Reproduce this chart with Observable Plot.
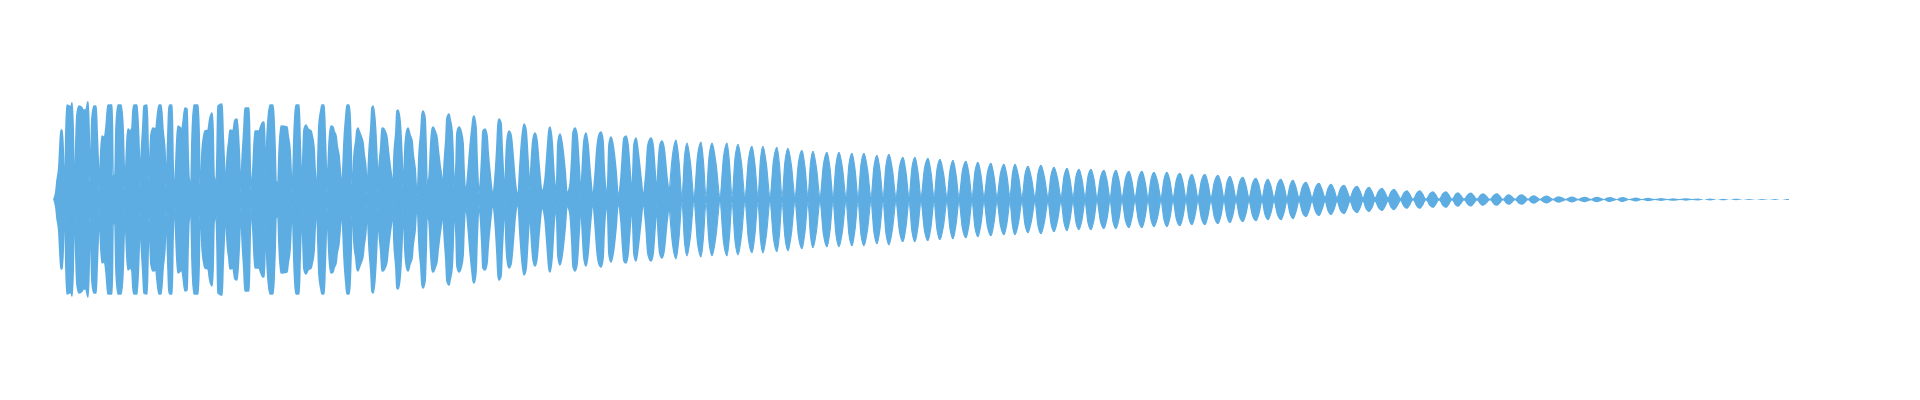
<!DOCTYPE html>
<html>
<head>
<meta charset="utf-8">
<script src="https://cdn.jsdelivr.net/npm/d3@7"></script>
<script src="https://cdn.jsdelivr.net/npm/@observablehq/plot@0.6"></script>
<style>
  html, body { margin: 0; padding: 0; background: #ffffff; }
  #chart svg { display: block; }
</style>
</head>
<body>
<div id="chart"></div>
<script>
// Waveform envelope: frame index (t) and peak amplitude (amp, % of full scale).
const t = [
  0,1,2,3,5,6,7,8,9,10,
  11,12,13,15,17,18,19,20,21,22,
  23,25,28,29,32,34,35,36,37,38,
  40,42,43,44,45,46,48,50,52,53,
  54,58,59,61,62,64,67,69,70,71,
  72,73,74,76,78,79,80,83,85,86,
  87,89,90,93,94,95,97,99,102,103,
  105,107,109,111,112,113,114,115,116,118,
  119,121,122,123,124,128,129,131,133,134,
  135,137,138,140,144,145,146,147,148,150,
  151,154,156,158,159,160,162,163,164,168,
  169,171,172,173,175,176,179,181,183,185,
  187,188,190,191,195,196,197,199,201,205,
  207,209,210,211,212,213,216,219,220,221,
  222,224,225,227,233,234,236,237,238,239,
  240,241,242,245,246,247,248,249,250,252,
  254,257,258,260,261,263,264,265,267,268,
  270,271,272,273,274,275,277,279,280,282,
  283,285,286,288,289,290,292,293,295,296,
  297,298,299,300,302,303,304,305,307,309,
  310,312,313,314,315,317,318,319,321,323,
  324,325,327,328,329,331,333,334,336,338,
  339,340,342,343,344,346,348,349,350,351,
  353,354,356,358,359,361,363,364,365,367,
  368,369,371,372,373,375,377,378,379,381,
  383,384,386,388,389,390,392,393,395,396,
  398,399,400,402,403,405,407,409,410,412,
  414,416,418,419,420,422,423,425,427,428,
  429,431,433,434,436,439,441,443,444,445,
  447,448,450,451,452,453,455,457,459,461,
  464,466,468,470,472,474,476,477,479,481,
  483,485,488,491,493,495,496,498,500,502,
  503,504,506,508,511,513,516,518,519,521,
  523,525,527,528,530,532,534,536,539,541,
  543,545,547,549,550,553,554,555,557,559,
  562,564,567,569,570,572,574,576,578,579,
  580,582,584,587,589,592,594,597,599,601,
  603,604,606,608,610,613,615,
  618.5,622,625,628, 630.5,633,636.5,640, 643.5,647,649.5,652, 655,658,662,666,
  669.5,673,675.5,678, 681,684,687.5,691, 694.5,698,701,704, 706.5,709,712.5,716,
  719.5,723,725.5,728, 731,734,737.5,741, 744.5,748,751,754, 756.5,759,762.5,766,
  769.5,773,776,779, 782,785,788.5,792, 795,798,801,804, 807,810,813.5,817,
  820,823,826,829, 832,835,838.5,842, 845.5,849,852,855, 858,861,864,867,
  870.5,874,877,880, 883,886,889.5,893, 896,899,902,905, 908.5,912,915,918,
  921,924,927,930, 933.5,937,940,943, 946.5,950,953,956, 958.5,961,964.5,968,
  971,974,977.5,981, 984,987,990.5,994, 997,1000,1003.5,1007, 1010,1013,1016,1019,
  1022,1025,1028,1031, 1034,1037,1040,1043, 1046.5,1050,1053,1056, 1059,1062,1065,1068,
  1071.5,1075,1078,1081, 1084.5,1088,1091,1094, 1097,1100,1103.5,1107, 1110,1113,1116,1119,
  1122.5,1126,1129,1132, 1135,1138,1141,1144, 1147.5,1151,1154,1157, 1160.5,1164,1167,1170,
  1173,1176,1179,1182, 1185.5,1189,1192,1195, 1198.5,1202,1205,1208, 1211,1214,1217,1220,
  1223.5,1227,1230,1233, 1236,1239,1242,1245, 1248.5,1252,1255,1258, 1261.5,1265,1268,1271,
  1274,1277,1280,1283, 1286.5,1290,1293,1296, 1299.5,1303,1306,1309, 1312,1315,1318,1321,
  1324.5,1328,1331,1334, 1337,1340,1343,1346, 1349.5,1353,1356,1359, 1362.5,1366,1369,1372,
  1375.5,1379,1382,1385, 1388.5,1392,1395,1398, 1401,1404,1407,1410, 1413.5,1417,1420,1423,
  1426,1429,1432.5,1436, 1439.5,1443,1446,1449, 1452,1455,1458,1461, 1464.5,1468,1471,1474,
  1477,1480,1483,1486, 1489.5,1493,1496,1499, 1502,1505,1508.5,1512, 1515,1518,1521,1524,
  1527.5,1531,1534,1537, 1540,1543,1546.5,1550, 1553,1556,1559.5,1563, 1566,1569,1572,1575,
  1582,1588,1594,1601,1607,1613,1619,1626,1632,1638,
  1644,1650,1656,1663,1669,1676,1682,1689,1695,1702,
  1708,1715,1721,1728,1733,1735
];
const amp = [
  0,3,8,18,33,53,69,69,53,21,
  20,68,94,93,92,96,73,26,19,59,
  84,93,91,89,89,97,69,18,44,81,
  93,93,68,42,9,29,63,62,71,84,
  94,94,24,24,69,94,94,71,36,9,
  34,58,70,68,71,88,94,94,51,13,
  39,74,93,94,54,19,64,71,70,79,
  94,94,68,46,13,31,66,91,94,94,
  38,9,38,61,73,70,76,91,90,48,
  21,14,58,94,94,68,16,18,46,64,
  68,69,81,86,69,23,16,41,93,95,
  66,24,9,39,59,69,68,79,80,51,
  8,36,71,91,91,39,9,31,68,68,
  73,77,77,49,25,61,94,94,79,51,
  18,16,44,73,72,64,49,28,7,23,
  62,84,94,94,61,29,9,43,69,74,
  70,68,64,51,30,10,43,74,89,94,
  94,69,38,8,29,54,73,72,68,63,
  54,43,31,11,31,56,84,94,94,83,
  54,16,18,43,59,69,71,68,63,56,
  46,29,6,23,46,73,91,93,78,38,
  8,31,54,71,71,68,61,51,34,18,
  4,41,68,88,89,78,41,13,24,51,
  69,71,64,58,46,31,4,16,43,68,
  84,88,81,54,16,21,58,69,72,68,
  61,51,34,19,6,31,61,81,85,80,
  68,46,14,33,66,72,68,56,29,9,
  26,51,71,80,83,71,41,6,26,46,
  68,70,63,48,26,4,21,53,74,80,
  76,53,16,4,39,58,68,64,44,19,
  4,34,61,75,69,38,11,31,59,66,
  58,34,8,19,44,69,72,58,24,6,
  23,56,65,56,29,6,14,44,66,71,
  64,34,4,24,58,66,54,28,4,23,
  51,64,67,58,34,6,21,54,62,54,
  28,4,21,51,61,63,54,28,4,28,
  54,61,48,21,4,26,54,61,54,28,
  6,28,54,58,51,21,4,
  44,59,38,3, 42,56,36,3, 43,57,37,3, 42,56,36,3,
  42,56,36,3, 41,55,36,3, 40,53,34,3, 40,53,34,3,
  39,52,34,3, 38,51,33,3, 37,49,32,3, 36,48,31,3,
  35,47,31,3, 35,47,31,3, 35,46,30,3, 35,46,30,3,
  33,44,29,3, 34,45,29,3, 32,42,27,3, 32,42,27,3,
  31,41,27,3, 30,40,26,3, 29,39,25,3, 29,38,25,3,
  28,37,24,3, 27,36,23,3, 26,35,23,3, 26,35,23,3,
  25,33,21,3, 26,34,22,3, 24,32,21,3, 23,31,20,3,
  23,30,20,3, 23,30,20,2, 22,29,19,2, 22,29,19,2,
  21,28,18,2, 21,28,18,2, 20,27,18,2, 20,27,18,2,
  20,26,17,2, 19,25,16,2, 19,25,16,2, 18,24,16,2,
  17,23,15,2, 17,22,14,2, 16,21,14,2, 15,20,13,2,
  15,20,13,2, 14,19,12,2, 13,17,11,2, 12,16,10,2,
  11,15,10,2, 11,14,9,2, 10,13,8.5,1.5, 9,12,8,1.5,
  8,11,7,1.5, 7.5,10,6.5,1, 7,9.3,6,1, 7,9.3,6,1,
  6.2,8.3,5.4,1, 6.2,8.3,5.4,1, 5.5,7.3,4.7,1, 5.2,7,4.5,1,
  4.7,6.3,4.1,0.8, 4.7,6.3,4.1,0.8, 4,5.3,3.4,0.8, 4,5.3,3.4,0.8,
  3.2,4.3,2.8,0.8, 3,4,2.6,0.8, 2.5,3.3,2.1,0.8, 2.2,3,2,0.7,
  2,2.7,1.8,0.7, 2,2.7,1.8,0.6, 1.9,2.5,1.6,0.6, 1.9,2.5,1.6,0.6,
  2,0.6,1.8,0.5,1.5,0.5,1.3,0.5,1.2,0.5,
  1,0,0.9,0,0.8,0,0.7,0,0.6,0,
  0.6,0,0.5,0,0.5,0.5
];
const fillColor = "#5DADE2";

const n = Math.min(t.length, amp.length);
const data = [];
for (let i = 0; i < n; i++) data.push({t: t[i], amp: amp[i]});

const area = (extra) => Plot.areaY(data, {
  x: "t",
  y1: d => -d.amp,
  y2: "amp",
  curve: "monotone-x",
  ...extra
});

const chart = Plot.plot({
  width: 1920,
  height: 400,
  marginLeft: 54,
  marginRight: 131,
  marginTop: 99,
  marginBottom: 100,
  x: {domain: [0, 1735], axis: null},
  y: {domain: [-100, 100], axis: null},
  marks: [
    area({fill: fillColor}),
    area({filter: d => d.t <= 615, fill: "none", stroke: fillColor, strokeWidth: 1.8}),
    area({filter: d => d.t >= 615 && d.t <= 1346, fill: "none", stroke: fillColor, strokeWidth: 1.2})
  ]
});
document.getElementById("chart").appendChild(chart);
if (t.length !== amp.length) console.error("length mismatch", t.length, amp.length);
</script>
</body>
</html>
